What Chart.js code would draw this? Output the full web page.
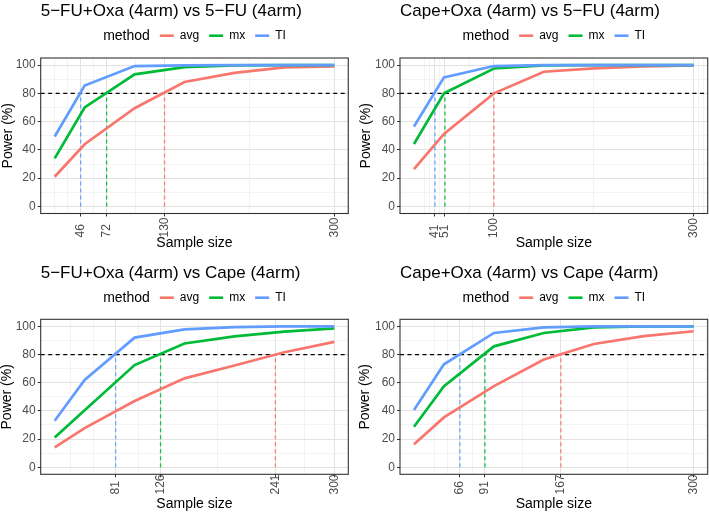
<!DOCTYPE html>
<html>
<head>
<meta charset="utf-8">
<script src="https://cdn.jsdelivr.net/npm/chart.js@4.4.1/dist/chart.umd.min.js"></script>
<style>
  body { margin: 0; background: #fff; }
  .panel { position: absolute; }
</style>
</head>
<body>
<div class="panel" style="left:0;top:0"><canvas id="c1" width="354" height="256"></canvas></div>
<div class="panel" style="left:355px;top:0"><canvas id="c2" width="354" height="256"></canvas></div>
<div class="panel" style="left:0;top:256px"><canvas id="c3" width="354" height="257"></canvas></div>
<div class="panel" style="left:355px;top:256px"><canvas id="c4" width="354" height="257"></canvas></div>
<script>
// sample sizes evaluated (same for every comparison)
var sizes = [20, 50, 100, 150, 200, 250, 300];
var methods = ['avg', 'mx', 'TI'];
var yBreaks = [0, 20, 40, 60, 80, 100];
var target = 80;

// 5-FU+Oxa (4arm) vs 5-FU (4arm)
var avg1 = [21, 44, 69.5, 88, 94.5, 98.3, 99];
var mx1  = [34, 70, 93.4, 98.5, 99.8, 100, 100];
var ti1  = [49.5, 85.5, 99.3, 99.8, 100, 100, 100];
var xBreaks1 = [46, 72, 130, 300];
var cross1 = [130, 72, 46]; // avg, mx, TI

// Cape+Oxa (4arm) vs 5-FU (4arm)
var avg2 = [26.4, 51.3, 80, 95.3, 97.6, 99, 99.8];
var mx2  = [44.2, 80, 97.6, 99.8, 100, 100, 100];
var ti2  = [56.5, 91.3, 99.3, 100, 100, 100, 100];
var xBreaks2 = [41, 51, 100, 300];
var cross2 = [100, 51, 41];

// 5-FU+Oxa (4arm) vs Cape (4arm)
var avg3 = [14.1, 27.8, 47, 63.1, 72.2, 81.6, 89];
var mx3  = [21.2, 40.5, 72.5, 87.8, 92.9, 96.2, 98.6];
var ti3  = [33, 61.9, 92, 97.9, 99.5, 100, 100];
var xBreaks3 = [81, 126, 241, 300];
var cross3 = [241, 126, 81];

// Cape+Oxa (4arm) vs Cape (4arm)
var avg4 = [16.3, 35.4, 57.6, 76.5, 87.5, 93, 96.5];
var mx4  = [28.7, 57.5, 85.8, 95.3, 99.3, 100, 100];
var ti4  = [40.6, 73.1, 95.3, 99.3, 100, 100, 100];
var xBreaks4 = [66, 91, 167, 300];
var cross4 = [167, 91, 66];

var FONT = "'Liberation Sans', Arial, Helvetica, sans-serif";
var COLORS = { avg: '#F8766D', mx: '#00BA38', TI: '#619CFF' };
var FADED = { avg: 'rgba(248,118,109,0.9)', mx: 'rgba(0,186,56,0.9)', TI: 'rgba(97,156,255,0.9)' };

// ggplot-style minor breaks (midpoints, extended one step past the ends)
function minorBreaks(b, lo, hi) {
  var bd = b[1] - b[0];
  var ext = b.slice();
  if (lo < ext[0]) ext.unshift(ext[0] - bd);
  if (hi > ext[ext.length - 1]) ext.push(ext[ext.length - 1] + bd);
  var out = [];
  for (var i = 0; i < ext.length - 1; i++) {
    out.push(ext[i], (ext[i] + ext[i + 1]) / 2);
  }
  out.push(ext[ext.length - 1]);
  return out.filter(function (v) { return v >= lo && v <= hi; });
}

function pts(ys) {
  return sizes.map(function (x, i) { return { x: x, y: ys[i] }; });
}

var decor = {
  id: 'decor',
  afterDraw: function (chart, args, o) {
    var ctx = chart.ctx, a = chart.chartArea, xs = chart.scales.x;
    ctx.save();
    // panel border
    ctx.strokeStyle = '#333333';
    ctx.lineWidth = 1.1;
    ctx.strokeRect(a.left, a.top, a.right - a.left, a.bottom - a.top);

    // title, left aligned with panel
    ctx.fillStyle = '#000';
    ctx.font = '17px ' + FONT;
    ctx.textAlign = 'left';
    ctx.textBaseline = 'alphabetic';
    ctx.fillText(o.title, a.left, o.titleY);

    // legend
    var cx = (a.left + a.right) / 2;
    ctx.font = '14px ' + FONT;
    var wTitle = ctx.measureText('method').width;
    ctx.font = '12px ' + FONT;
    var items = methods.map(function (m) { return { m: m, w: ctx.measureText(m).width }; });
    var total = wTitle + 10;
    items.forEach(function (it, i) { total += 14 + 6 + it.w + (i < items.length - 1 ? 10 : 0); });
    var x = cx - total / 2, ly = o.legendY;
    ctx.textBaseline = 'middle';
    ctx.font = '14px ' + FONT;
    ctx.fillStyle = '#000';
    ctx.fillText('method', x, ly);
    x += wTitle + 10;
    ctx.font = '12px ' + FONT;
    items.forEach(function (it) {
      ctx.strokeStyle = COLORS[it.m];
      ctx.lineWidth = 2.6;
      ctx.beginPath();
      ctx.moveTo(x, ly);
      ctx.lineTo(x + 14, ly);
      ctx.stroke();
      x += 20;
      ctx.fillStyle = '#000';
      ctx.fillText(it.m, x, ly);
      x += it.w + 10;
    });

    // x tick labels, rotated
    ctx.font = '12px ' + FONT;
    ctx.fillStyle = '#4D4D4D';
    o.xBreaks.forEach(function (v) {
      var px = xs.getPixelForValue(v);
      ctx.save();
      ctx.translate(px, o.xLabY);
      ctx.rotate(-Math.PI / 2);
      ctx.textAlign = 'left';
      ctx.textBaseline = 'middle';
      ctx.fillText(String(v), 0, 0);
      ctx.restore();
    });

    // axis titles
    ctx.fillStyle = '#000';
    ctx.font = '14px ' + FONT;
    ctx.textAlign = 'center';
    ctx.textBaseline = 'alphabetic';
    ctx.fillText('Sample size', cx, o.xTitleY);
    ctx.save();
    ctx.translate(o.yTitleX, (a.top + a.bottom) / 2);
    ctx.rotate(-Math.PI / 2);
    ctx.textBaseline = 'middle';
    ctx.fillText('Power (%)', 0, 0);
    ctx.restore();
    ctx.restore();
  }
};

function makePanel(id, p) {
  var canvas = document.getElementById(id);
  var W = canvas.width, H = canvas.height;
  var xMin = 6, xMax = 314;
  var xGrid = minorBreaks(p.xBreaks, xMin, xMax);
  var yGrid = minorBreaks(yBreaks, -5, 105);
  var series = [p.avg, p.mx, p.ti];

  var datasets = [];
  methods.forEach(function (m, i) {
    datasets.push({
      label: m, data: pts(series[i]), showLine: true, pointRadius: 0,
      borderColor: COLORS[m], borderWidth: 2.7, order: 2 - i
    });
  });
  datasets.push({
    label: 'target', data: [{ x: xMin, y: target }, { x: xMax, y: target }],
    showLine: true, pointRadius: 0, borderColor: '#000', borderWidth: 1.2,
    borderDash: [4, 3.5], order: 10
  });
  methods.forEach(function (m, i) {
    datasets.push({
      label: m + ' n', data: [{ x: p.cross[i], y: 0 }, { x: p.cross[i], y: target }],
      showLine: true, pointRadius: 0, borderColor: FADED[m], borderWidth: 1.3,
      borderDash: [4, 3], order: 11
    });
  });

  function isMajorX(v) { return p.xBreaks.indexOf(v) >= 0; }
  function isMajorY(v) { return yBreaks.indexOf(v) >= 0; }

  new Chart(canvas, {
    type: 'scatter',
    data: { datasets: datasets },
    plugins: [decor],
    options: {
      responsive: false,
      animation: false,
      devicePixelRatio: 1,
      layout: { padding: { top: p.top, right: W - p.right, left: 0, bottom: 0 } },
      plugins: {
        legend: { display: false },
        tooltip: { enabled: false },
        decor: {
          title: p.title, titleY: p.titleY, legendY: p.legendY, xBreaks: p.xBreaks,
          xLabY: p.xLabY, xTitleY: p.xTitleY, yTitleX: p.yTitleX
        }
      },
      scales: {
        x: {
          type: 'linear', min: xMin, max: xMax,
          afterBuildTicks: function (s) { s.ticks = xGrid.map(function (v) { return { value: v }; }); },
          afterFit: function (s) { s.height = H - p.bottom; },
          ticks: { display: false, autoSkip: false },
          grid: {
            color: function (c) { return c.tick && isMajorX(c.tick.value) ? '#E2E2E2' : '#EEEEEE'; },
            lineWidth: function (c) { return c.tick && isMajorX(c.tick.value) ? 1 : 0.7; },
            tickColor: function (c) { return c.tick && isMajorX(c.tick.value) ? '#333333' : 'rgba(0,0,0,0)'; },
            tickLength: 3, drawTicks: true
          },
          border: { display: false }
        },
        y: {
          type: 'linear', min: -5, max: 105,
          afterBuildTicks: function (s) { s.ticks = yGrid.map(function (v) { return { value: v }; }); },
          afterFit: function (s) { s.width = p.left; },
          ticks: {
            autoSkip: false, padding: 2, color: '#4D4D4D',
            font: { family: FONT, size: 12 },
            callback: function (v) { return isMajorY(v) ? String(v) : ''; }
          },
          grid: {
            color: function (c) { return c.tick && isMajorY(c.tick.value) ? '#E2E2E2' : '#EEEEEE'; },
            lineWidth: function (c) { return c.tick && isMajorY(c.tick.value) ? 1 : 0.7; },
            tickColor: function (c) { return c.tick && isMajorY(c.tick.value) ? '#333333' : 'rgba(0,0,0,0)'; },
            tickLength: 3, drawTicks: true
          },
          border: { display: false }
        }
      }
    }
  });
}

makePanel('c1', {
  title: '5\u2212FU+Oxa (4arm) vs 5\u2212FU (4arm)', avg: avg1, mx: mx1, ti: ti1,
  xBreaks: xBreaks1, cross: cross1,
  left: 40.7, right: 348.3, top: 58, bottom: 213.5,
  titleY: 15.5, legendY: 35.7, xLabY: 237.5, xTitleY: 247, yTitleX: 8
});
makePanel('c2', {
  title: 'Cape+Oxa (4arm) vs 5\u2212FU (4arm)', avg: avg2, mx: mx2, ti: ti2,
  xBreaks: xBreaks2, cross: cross2,
  left: 45, right: 352.7, top: 58, bottom: 213.5,
  titleY: 15.5, legendY: 35.7, xLabY: 238, xTitleY: 247, yTitleX: 11
});
makePanel('c3', {
  title: '5\u2212FU+Oxa (4arm) vs Cape (4arm)', avg: avg3, mx: mx3, ti: ti3,
  xBreaks: xBreaks3, cross: cross3,
  left: 40.7, right: 348.3, top: 63.3, bottom: 218.3,
  titleY: 21.5, legendY: 41.7, xLabY: 238.5, xTitleY: 252, yTitleX: 7
});
makePanel('c4', {
  title: 'Cape+Oxa (4arm) vs Cape (4arm)', avg: avg4, mx: mx4, ti: ti4,
  xBreaks: xBreaks4, cross: cross4,
  left: 45, right: 352.7, top: 63.3, bottom: 218.3,
  titleY: 21.5, legendY: 41.7, xLabY: 238.5, xTitleY: 252, yTitleX: 10.5
});
</script>
</body>
</html>
